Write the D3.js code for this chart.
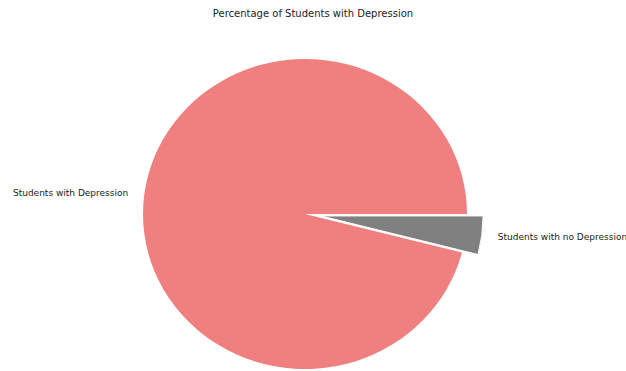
<!DOCTYPE html>
<html>
<head>
<meta charset="utf-8">
<script src="https://cdn.jsdelivr.net/npm/d3@7"></script>
<style>
  body { margin: 0; background: #fff; }
  text { font-family: "DejaVu Sans", sans-serif; fill: #222; }
</style>
</head>
<body>
<div id="container"></div>
<script>
// data
let categories = ["Students with Depression", "Students with no Depression"];
let values = [96, 4];
let colors = ["#f08080", "#808080"];
let explode = [0, 0.1];

let w = 626;
let h = 371;
let cx = 305;
let cy = 214;
let r = 162;
let squash = 155 / 162; // picture is a bit flattened vertically

let viz = d3.select("#container")
  .append("svg")
    .attr("width", w)
    .attr("height", h);

viz.append("text")
  .attr("x", 313)
  .attr("y", 17)
  .attr("text-anchor", "middle")
  .attr("font-size", 10)
  .text("Percentage of Students with Depression");

let data = categories.map(function(c, i){
  return { name: c, value: values[i], color: colors[i], explode: explode[i] };
});

// matplotlib style: start at 3 o'clock, go counterclockwise
let pie = d3.pie()
  .value(function(d){ return d.value; })
  .sort(null)
  .startAngle(Math.PI / 2)
  .endAngle(Math.PI / 2 - 2 * Math.PI);

let arc = d3.arc().innerRadius(0).outerRadius(r);
let slices = pie(data);

let pieGroup = viz.append("g")
  .attr("transform", "translate(" + cx + "," + cy + ") scale(1," + squash + ")");

pieGroup.selectAll(".slice")
  .data(slices)
  .enter()
  .append("path")
    .attr("class", "slice")
    .attr("d", arc)
    .attr("fill", function(d){ return d.data.color; })
    .attr("stroke", function(d){ return d.data.explode > 0 ? "#fff" : "none"; })
    .attr("stroke-width", 1)
    .attr("transform", function(d){
      let a = (d.startAngle + d.endAngle) / 2;
      let off = d.data.explode * r;
      return "translate(" + (Math.sin(a) * off) + "," + (-Math.cos(a) * off) + ")";
    });

// labels at 1.1 * r along the middle angle
viz.selectAll(".label")
  .data(slices)
  .enter()
  .append("text")
    .attr("class", "label")
    .attr("font-size", 9)
    .attr("x", function(d){
      let a = (d.startAngle + d.endAngle) / 2;
      return cx + Math.sin(a) * r * (1.1 + d.data.explode);
    })
    .attr("y", function(d){
      let a = (d.startAngle + d.endAngle) / 2;
      return cy - Math.cos(a) * r * (1.1 + d.data.explode) * squash;
    })
    .attr("dy", "0.35em")
    .attr("text-anchor", function(d){
      let a = (d.startAngle + d.endAngle) / 2;
      return Math.sin(a) < 0 ? "end" : "start";
    })
    .text(function(d){ return d.data.name; });
</script>
</body>
</html>
